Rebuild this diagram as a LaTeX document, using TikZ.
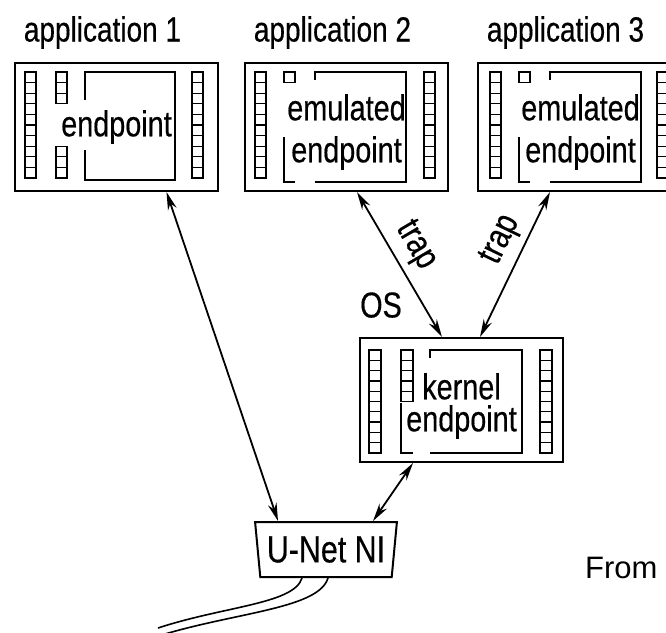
\documentclass[tikz,border=0pt]{standalone}
\usepackage{fontspec}
\setmainfont{Liberation Sans}
\newfontfamily\narrowfont[FakeStretch=0.8, FakeBold=0.4]{Liberation Sans}
\usetikzlibrary{positioning, arrows.meta, shapes.geometric}

\begin{document}
\begin{tikzpicture}[x=1pt, y=-1pt, node distance={14pt}]
	\tikzstyle{box} = [draw, line width=2pt, rectangle, minimum width=203pt, minimum height=128pt, inner sep=0pt]
	\tikzstyle{cell} = [draw, line width=1.3pt]
	\tikzstyle{frame} = [line width=1.6pt]
	\tikzstyle{txt} = [font={\narrowfont\fontsize{36}{42}\selectfont}, align=center, inner sep=0pt]
	\tikzstyle{head} = [font={\narrowfont\fontsize{35}{40}\selectfont}, inner sep=0pt]
	\tikzstyle{link} = [line width=1.8pt, {Stealth[length=18pt,width=9pt]}-{Stealth[length=18pt,width=9pt]}]
	\tikzstyle{cable} = [line width=1.6pt]
	\path[use as bounding box, clip] (0,0) rectangle (666,632);

	% endpoint boxes
	\node[box] (app1) at (116.5,127) {};
	\node[box] (app2) at (346.5,127) {};
	\node[box] (app3) at (579.5,127) {};
	\node[box, minimum height=124pt] (kernel) at (461.5,400) {};
	\node[draw, line width=2pt, trapezium, trapezium left angle=80, trapezium right angle=80, shape border rotate=180, trapezium stretches=true, minimum width=142pt, minimum height=55pt, inner sep=0pt, font={\narrowfont\fontsize{38}{42}\selectfont}] (ni) at (326,549.5) {U-Net NI};

	\node[head, above=13pt of app1, xshift=-14pt] (lab1) {application 1};
	\node[head, above=13pt of app2, xshift=-14pt] (lab2) {application 2};
	\node[head, above=13pt of app3, xshift=-14pt] (lab3) {application 3};
	\node[txt, above=19pt of kernel.north west, xshift=22pt, anchor=south] (os) {OS};

	\node[txt] (ep1) at (app1) {endpoint};
	\node[txt] (ep2) at ([yshift=-5pt]app2) {emulated\\endpoint};
	\node[txt] (ep3) at ([yshift=-5pt, xshift=1pt]app3) {emulated\\endpoint};
	\node[txt, font={\narrowfont\fontsize{36}{32}\selectfont}] (kep) at ([yshift=-6pt]kernel) {kernel\\endpoint};

	% queues
	\foreach \x/\a/\b in {25/0/9, 56/0/2, 56/7/9, 192/0/9, 255/0/9, 284/0/0, 424/0/9, 490/0/9, 519/0/0, 657/0/9}
		\foreach \i in {\a,...,\b}
			\draw[cell] (\x,72+10.6*\i) rectangle ++(11,10.6);
	\foreach \x/\a/\b in {369/0/9, 401/0/4, 540/0/9}
		\foreach \i in {\a,...,\b}
			\draw[cell] (\x,350+10.3*\i) rectangle ++(12,10.3);

	% buffer areas
	\draw[frame] (85,100) -- (85,72) -- (175,72) -- (175,180) -- (85,180) -- (85,150);
	\foreach \s in {0,235} {
		\draw[frame, xshift=\s pt] (315,80) -- (315,72) -- (406,72) -- (406,182) -- (315,182);
		\draw[frame, xshift=\s pt] (284,137) -- (284,182) -- (295,182);
	}
	\draw[frame] (430,358) -- (430,350) -- (522,350) -- (522,453) -- (430,453);
	\draw[frame] (401,403) -- (401,453) -- (413,453);

	\draw[link] ([xshift=50pt]app1.south) -- ([xshift=-48pt]ni.north);
	\draw[link] ([xshift=10.5pt]app2.south) -- node[txt, sloped, above=7pt, pos=0.45] (trap1) {trap} ([xshift=-19.5pt]kernel.north);
	\draw[link] ([xshift=18.5pt]kernel.north) -- node[txt, sloped, above=7pt, pos=0.6] (trap2) {trap} ([xshift=-29.5pt]app3.south);
	\draw[link] ([xshift=-48.5pt]kernel.south) -- ([xshift=47pt]ni.north);

	% cable
	\coordinate (c1) at (158,628);
	\coordinate (c2) at (165,634);
	\draw[cable] ([xshift=-24pt]ni.south) .. controls (294,604) and (225,606) .. (c1);
	\draw[cable] ([xshift=2pt]ni.south) .. controls (319,608) and (240,612) .. (c2);

	\node[font={\fontsize{31}{36}\selectfont}, anchor=base west, inner sep=0pt] (from) at (585,578) {From};
\end{tikzpicture}
\end{document}
